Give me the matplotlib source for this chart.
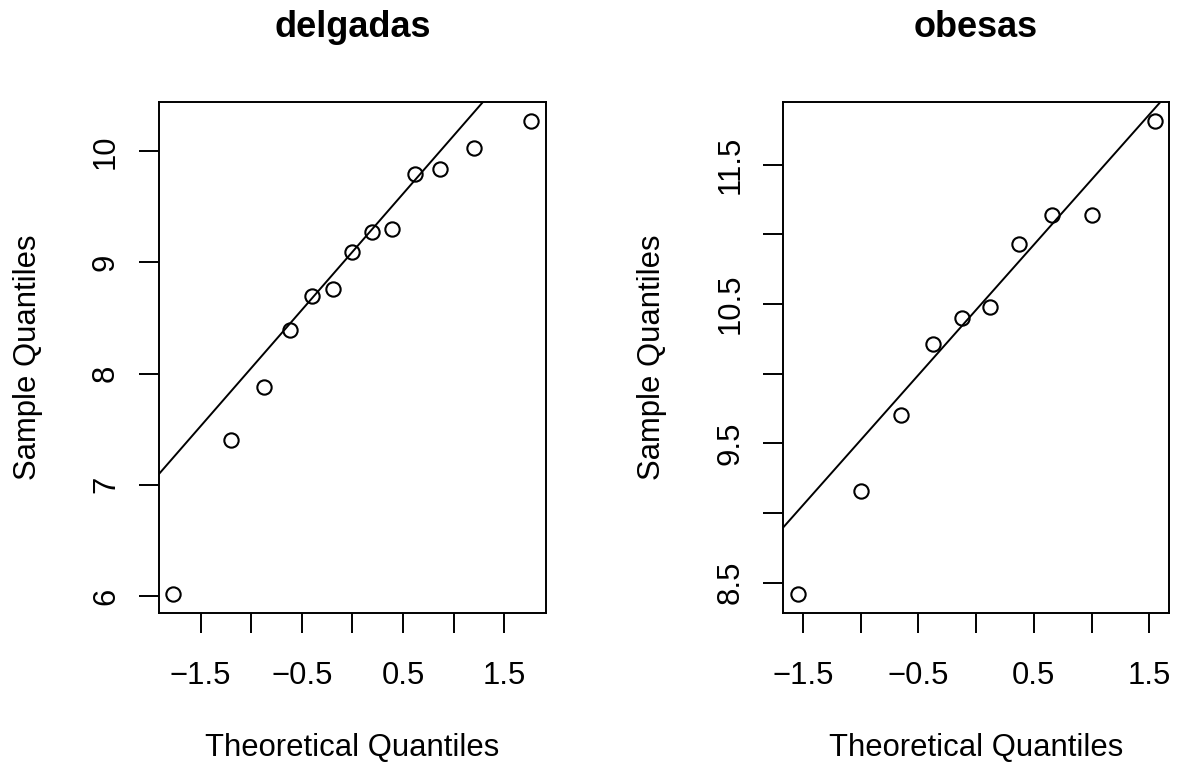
import numpy as np
import matplotlib
matplotlib.use("Agg")
from matplotlib import pyplot as plt
from statistics import NormalDist


# theoretical quantiles (qqnorm, ppoints) and sorted sample values
delgadas_teo = [-1.769, -1.198, -0.869, -0.615, -0.396, -0.194, 0.0,
                0.194, 0.396, 0.615, 0.869, 1.198, 1.769]
delgadas_obs = [6.02, 7.40, 7.88, 8.39, 8.70, 8.76, 9.09,
                9.27, 9.30, 9.80, 9.84, 10.03, 10.27]

obesas_teo = [-1.547, -1.000, -0.655, -0.375, -0.123,
              0.123, 0.375, 0.655, 1.000, 1.547]
obesas_obs = [8.42, 9.16, 9.70, 10.21, 10.40,
              10.48, 10.93, 11.14, 11.14, 11.81]

titles = ["delgadas", "obesas"]
x_ticks = [-1.5, -1.0, -0.5, 0.0, 0.5, 1.0, 1.5]
x_ticklabels = ["\u22121.5", "", "\u22120.5", "", "0.5", "", "1.5"]
y_ticks_left = [6, 7, 8, 9, 10]
y_ticklabels_left = ["6", "7", "8", "9", "10"]
y_ticks_right = [8.5, 9.0, 9.5, 10.0, 10.5, 11.0, 11.5]
y_ticklabels_right = ["8.5", "", "9.5", "", "10.5", "", "11.5"]

plt.rcParams["font.family"] = ["Liberation Sans", "DejaVu Sans"]
FS = 22.3


def r_lim(vals):
    lo, hi = min(vals), max(vals)
    d = (hi - lo) * 0.04
    return lo - d, hi + d


def qq_panel(ax, teo, obs, title, yt, ytl):
    ax.plot(teo, obs, linestyle="none", marker="o", markersize=10.3,
            markerfacecolor="none", markeredgecolor="black",
            markeredgewidth=1.5, clip_on=False)
    # qqline: through the 1st and 3rd quartiles
    q1, q3 = np.percentile(obs, [25, 75])
    z = NormalDist().inv_cdf(0.75)
    ax.axline((-z, q1), (z, q3), color="black", linewidth=1.4)

    ax.set_xlim(*r_lim(teo))
    ax.set_ylim(*r_lim(obs))
    ax.set_xticks(x_ticks)
    ax.set_xticklabels(x_ticklabels)
    ax.set_yticks(yt)
    ax.set_yticklabels(ytl, rotation=90, va="center")
    ax.tick_params(axis="both", direction="out", length=14.2, width=1.4,
                   labelsize=FS, color="black")
    ax.tick_params(axis="x", pad=20.9)
    ax.tick_params(axis="y", pad=13.2)
    for s in ax.spines.values():
        s.set_linewidth(1.4)

    ax.set_title(title, fontsize=26, fontweight="bold", pad=47.3)
    ax.text(0.5, -0.2808, "Theoretical Quantiles", transform=ax.transAxes,
            ha="center", va="baseline", fontsize=FS)
    # y label baseline 123.5 px left of the box
    w_px = ax.get_position().width * 1177
    ax.text(-123.5 / w_px, 0.5, "Sample Quantiles", transform=ax.transAxes,
            ha="center", va="baseline", rotation=90, rotation_mode="anchor",
            fontsize=FS)


def main():
    fig = plt.figure(figsize=(11.77, 7.68), dpi=100)
    ax1 = fig.add_axes([0.13509, 0.20221, 0.32855, 0.66445])
    ax2 = fig.add_axes([0.66551, 0.20221, 0.32770, 0.66445])

    qq_panel(ax1, delgadas_teo, delgadas_obs, titles[0],
             y_ticks_left, y_ticklabels_left)
    qq_panel(ax2, obesas_teo, obesas_obs, titles[1],
             y_ticks_right, y_ticklabels_right)

    fig.savefig("out.png", dpi=100, facecolor="white")


if __name__ == "__main__":
    main()
